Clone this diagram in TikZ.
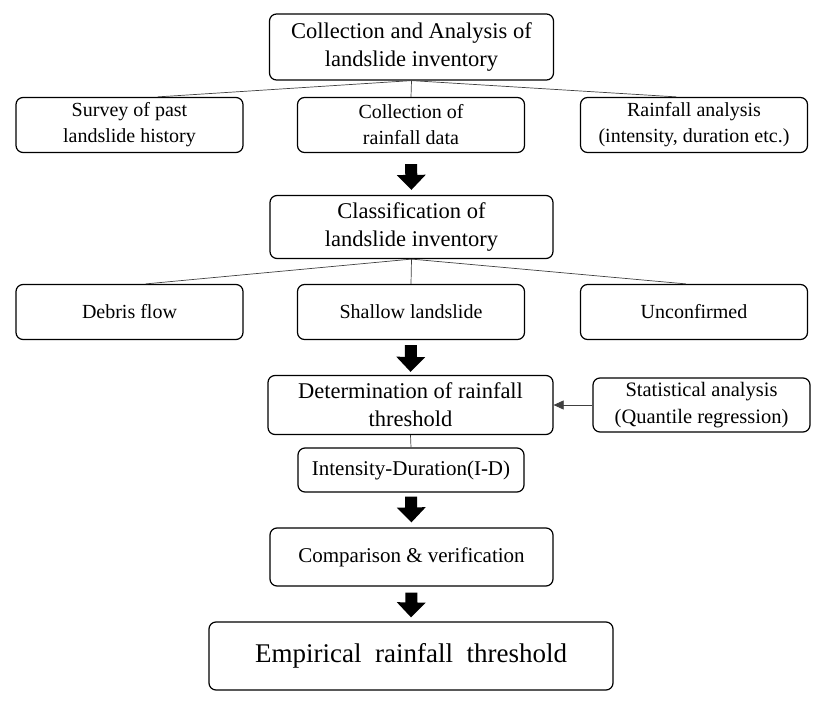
\documentclass[tikz,border=0pt]{standalone}
\usepackage{fontspec}
\setmainfont{Liberation Serif}
\usetikzlibrary{arrows.meta}

\tikzset{
	box/.style={draw, rounded corners=7pt, line width=1.2pt, align=center, inner sep=0pt, font=\fontsize{22.5}{28}\selectfont},
	subbox/.style={box, minimum width=227pt, minimum height=55pt, font=\fontsize{20}{26}\selectfont},
	fan/.style={draw=black!75, line width=0.7pt},
	bigarrow/.style={line width=12pt, -{Triangle[width=28pt,length=15pt]}}
}

\begin{document}
\begin{tikzpicture}[x=1pt,y=-1pt]
	\useasboundingbox (0,0) rectangle (840,714);
	\node[box, minimum width=284pt, minimum height=66pt] (coll) at (411.5,47) {Collection and Analysis of\\landslide inventory};
	\node[subbox] (survey) at (129.5,125) {Survey of past\\landslide history};
	\node[subbox] (rdata) at (411,125) {Collection of\\rainfall data};
	\node[subbox] (ranal) at (694,125) {Rainfall analysis\\(intensity, duration etc.)};
	\node[box, minimum width=283pt, minimum height=63pt] (class) at (411.5,227) {Classification of\\landslide inventory};
	\node[subbox] (debris) at (129.5,312) {Debris flow};
	\node[subbox] (shallow) at (411,312) {Shallow landslide};
	\node[subbox] (unconf) at (694,312) {Unconfirmed};
	\node[box, minimum width=285pt, minimum height=59pt] (det) at (410.5,405) {Determination of rainfall\\threshold};
	\node[box, minimum width=217pt, minimum height=54pt, font=\fontsize{20.5}{27}\selectfont] (stat) at (701.5,405) {Statistical analysis\\(Quantile regression)};
	\node[box, minimum width=226pt, minimum height=44pt, font=\fontsize{21}{26}\selectfont] (intens) at (411,470) {Intensity-Duration(I-D)};
	\node[box, minimum width=283pt, minimum height=58pt, font=\fontsize{21}{26}\selectfont] (comp) at (411.5,557) {Comparison \& verification};
	\node[box, minimum width=404pt, minimum height=68pt, font=\fontsize{27}{33}\selectfont] (emp) at (411,656) {Empirical\ \ rainfall\ \ threshold};

	\draw[fan] (coll.south) -- (survey.45);
	\draw[fan] (coll.south) -- (rdata.north);
	\draw[fan] (coll.south) -- (ranal.122);
	\draw[fan] (class.south) -- (debris.60);
	\draw[fan] (class.south) -- (shallow.north);
	\draw[fan] (class.south) -- (unconf.106);
	\draw[fan] (det.south) -- (intens.north);
	\draw[fan, -{Triangle[width=9pt,length=10pt]}] (stat.west) -- (det.east);

	\draw[bigarrow, shorten <=11pt, shorten >=5pt] (rdata.south) -- (class.north);
	\draw[bigarrow, shorten <=5pt, shorten >=3pt] (shallow.south) -- (det.north);
	\draw[bigarrow, shorten <=4pt, shorten >=5pt] (intens.south) -- (comp.north);
	\draw[bigarrow, shorten <=6pt, shorten >=4pt] (comp.south) -- (emp.north);
\end{tikzpicture}
\end{document}
